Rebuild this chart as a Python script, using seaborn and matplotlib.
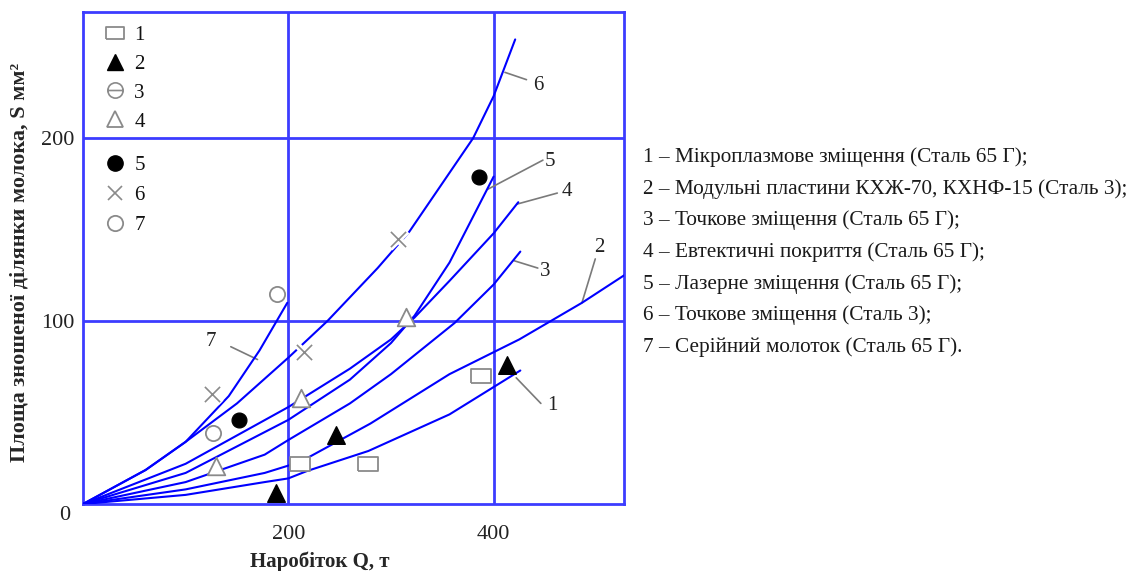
import matplotlib
matplotlib.use("Agg")
import matplotlib.pyplot as plt
from matplotlib.lines import Line2D
from matplotlib.path import Path
import seaborn as sns
import pandas as pd

# curves (Q, t -> S, mm2)
q1 = [0, 100, 177, 200, 218, 278, 357, 426]
s1 = [0, 5, 12, 14, 18, 29, 49, 73]
q2 = [0, 100, 177, 200, 218, 280, 357, 425, 486, 527]
s2 = [0, 8, 17, 21, 25, 44, 71, 90, 110, 125]
q3 = [0, 100, 177, 200, 260, 300, 362, 400, 426]
s3 = [0, 12, 27, 35, 55, 71, 99, 120, 138]
q4 = [0, 100, 200, 260, 300, 323, 357, 400, 424]
s4 = [0, 22, 53, 74, 90, 102, 122, 148, 165]
q5 = [0, 100, 200, 260, 300, 323, 357, 400]
s5 = [0, 17, 46, 68, 88, 103, 132, 179]
q6 = [0, 61, 100, 150, 200, 238, 287, 318, 380, 400, 421]
s6 = [0, 18.6, 34, 55, 80, 100, 129, 149, 200, 223, 254]
q7 = [0, 61, 100, 142, 172, 199]
s7 = [0, 18.6, 34, 59, 84, 110]

# experimental points
pq1 = [211, 278, 388]
ps1 = [22, 22, 70]
pq2 = [188, 246, 413]
ps2 = [6, 38, 76]
pq4 = [130, 212, 315]
ps4 = [21, 58, 102]
pq5 = [152, 386]
ps5 = [46, 179]
pq6 = [126, 215, 307]
ps6 = [60, 83, 145]
pq7 = [127, 189]
ps7 = [39, 115]

names = [
    "1 – Мікроплазмове зміщення (Сталь 65 Г);",
    "2 – Модульні пластини КХЖ-70, КХНФ-15 (Сталь 3);",
    "3 – Точкове зміщення (Сталь 65 Г);",
    "4 – Евтектичні покриття (Сталь 65 Г);",
    "5 – Лазерне зміщення (Сталь 65 Г);",
    "6 – Точкове зміщення (Сталь 3);",
    "7 – Серійний молоток (Сталь 65 Г).",
]

sns.set_theme(style="white")
plt.rcParams['font.family'] = ['Liberation Serif', 'DejaVu Serif']

fig = plt.figure(figsize=(11.35, 5.71), dpi=100)
ax = fig.add_axes([0.0731, 0.1173, 0.4767, 0.8617])

blue = "#0000ff"
grid_blue = "#3c3cff"
grey = "#8a8a8a"

curves = [(q1, s1), (q2, s2), (q3, s3), (q4, s4), (q5, s5), (q6, s6), (q7, s7)]
for q, s in curves:
    df = pd.DataFrame({"Q": q, "S": s})
    sns.lineplot(data=df, x="Q", y="S", ax=ax, color=blue, lw=1.5, sort=False, zorder=3)

rect = [(-1.5, -1), (1.5, -1), (1.5, 1), (-1.5, 1), (-1.5, -1)]
theta = Path.make_compound_path(Path.unit_circle(),
                                Path([(-1, 0), (1, 0)], [Path.MOVETO, Path.LINETO]))

# white halo under the crosses, the curves break there like in the source
sns.scatterplot(x=pq6, y=ps6, ax=ax, marker="x", s=150, color="white", linewidth=5, zorder=3.5)

sns.scatterplot(x=pq1, y=ps1, ax=ax, marker=rect, s=220, facecolor="white", edgecolor=grey, linewidth=1.3, zorder=4)
sns.scatterplot(x=pq2, y=ps2, ax=ax, marker="^", s=160, color="black", edgecolor="black", zorder=4)
sns.scatterplot(x=pq4, y=ps4, ax=ax, marker="^", s=160, facecolor="white", edgecolor=grey, linewidth=1.3, zorder=4)
sns.scatterplot(x=pq5, y=ps5, ax=ax, marker="o", s=115, color="black", edgecolor="black", zorder=4)
sns.scatterplot(x=pq6, y=ps6, ax=ax, marker="x", s=120, color=grey, linewidth=1.2, zorder=4)
sns.scatterplot(x=pq7, y=ps7, ax=ax, marker="o", s=120, facecolor="white", edgecolor=grey, linewidth=1.3, zorder=4)

ax.set_xlim(0, 527)
ax.set_ylim(0, 269)
ax.set_xticks([200, 400])
ax.set_yticks([100, 200])
ax.grid(True, color=grid_blue, lw=2)
ax.set_axisbelow(True)
for sp in ax.spines.values():
    sp.set_color(grid_blue)
    sp.set_linewidth(2)
ax.tick_params(length=0, labelsize=16, colors="#222222")
ax.tick_params(axis="x", pad=15)
ax.tick_params(axis="y", pad=6)
ax.text(-0.024, -0.024, "0", transform=ax.transAxes, fontsize=16, color="#222222",
        ha="right", va="center")

ax.set_xlabel("Наробіток Q, т", fontsize=15, fontweight="bold")
ax.set_ylabel("Площа зношеної ділянки молока, S мм²", fontsize=16, fontweight="bold")
ax.xaxis.set_label_coords(0.438, -0.097)
ax.yaxis.set_label_coords(-0.098, 0.49)

# curve labels with leader lines
labels = [
    ("1", (422, 69), (446, 55), (457, 54)),
    ("2", (486, 110), (499, 134), (503, 140)),
    ("3", (420, 133), (443, 129), (450, 127)),
    ("4", (423, 164), (462, 170), (471, 171)),
    ("5", (394, 172), (448, 188), (455, 187)),
    ("6", (411, 236), (432, 232), (444, 229)),
    ("7", (170, 79), (144, 86), (125, 89)),
]
for t, p0, p1, pt in labels:
    ax.plot([p0[0], p1[0]], [p0[1], p1[1]], color="#7a7a7a", lw=1.2, zorder=2)
    ax.text(pt[0], pt[1], t, fontsize=15, ha="center", va="center", color="#222222")

# symbol legend in the corner
h1 = [
    Line2D([], [], ls="", marker=rect, ms=13, mfc="white", mec=grey, mew=1.3),
    Line2D([], [], ls="", marker="^", ms=12, mfc="black", mec="black"),
    Line2D([], [], ls="", marker=theta, ms=11, mfc="none", mec=grey, mew=1.2),
    Line2D([], [], ls="", marker="^", ms=12, mfc="white", mec=grey, mew=1.3),
]
h2 = [
    Line2D([], [], ls="", marker="o", ms=11, mfc="black", mec="black"),
    Line2D([], [], ls="", marker="x", ms=10, color=grey, mew=1.2),
    Line2D([], [], ls="", marker="o", ms=11, mfc="white", mec=grey, mew=1.3),
]
leg1 = ax.legend(h1, ["1", "2", "3", "4"], loc="upper left", bbox_to_anchor=(0.037, 0.973),
                 frameon=False, fontsize=15, handlelength=1.2, handletextpad=0.3,
                 labelspacing=0.45, borderpad=0, borderaxespad=0, labelcolor="#111111")
ax.add_artist(leg1)
ax.legend(h2, ["5", "6", "7"], loc="upper left", bbox_to_anchor=(0.037, 0.708),
          frameon=False, fontsize=15, handlelength=1.2, handletextpad=0.3,
          labelspacing=0.5, borderpad=0, borderaxespad=0, labelcolor="#111111")

# description list on the right
for i, name in enumerate(names):
    fig.text(643 / 1135, 1 - (157 + i * 31.7) / 571, name, fontsize=15.3, va="center", ha="left", color="#1a1a1a")

fig.savefig("out.png", dpi=100)
